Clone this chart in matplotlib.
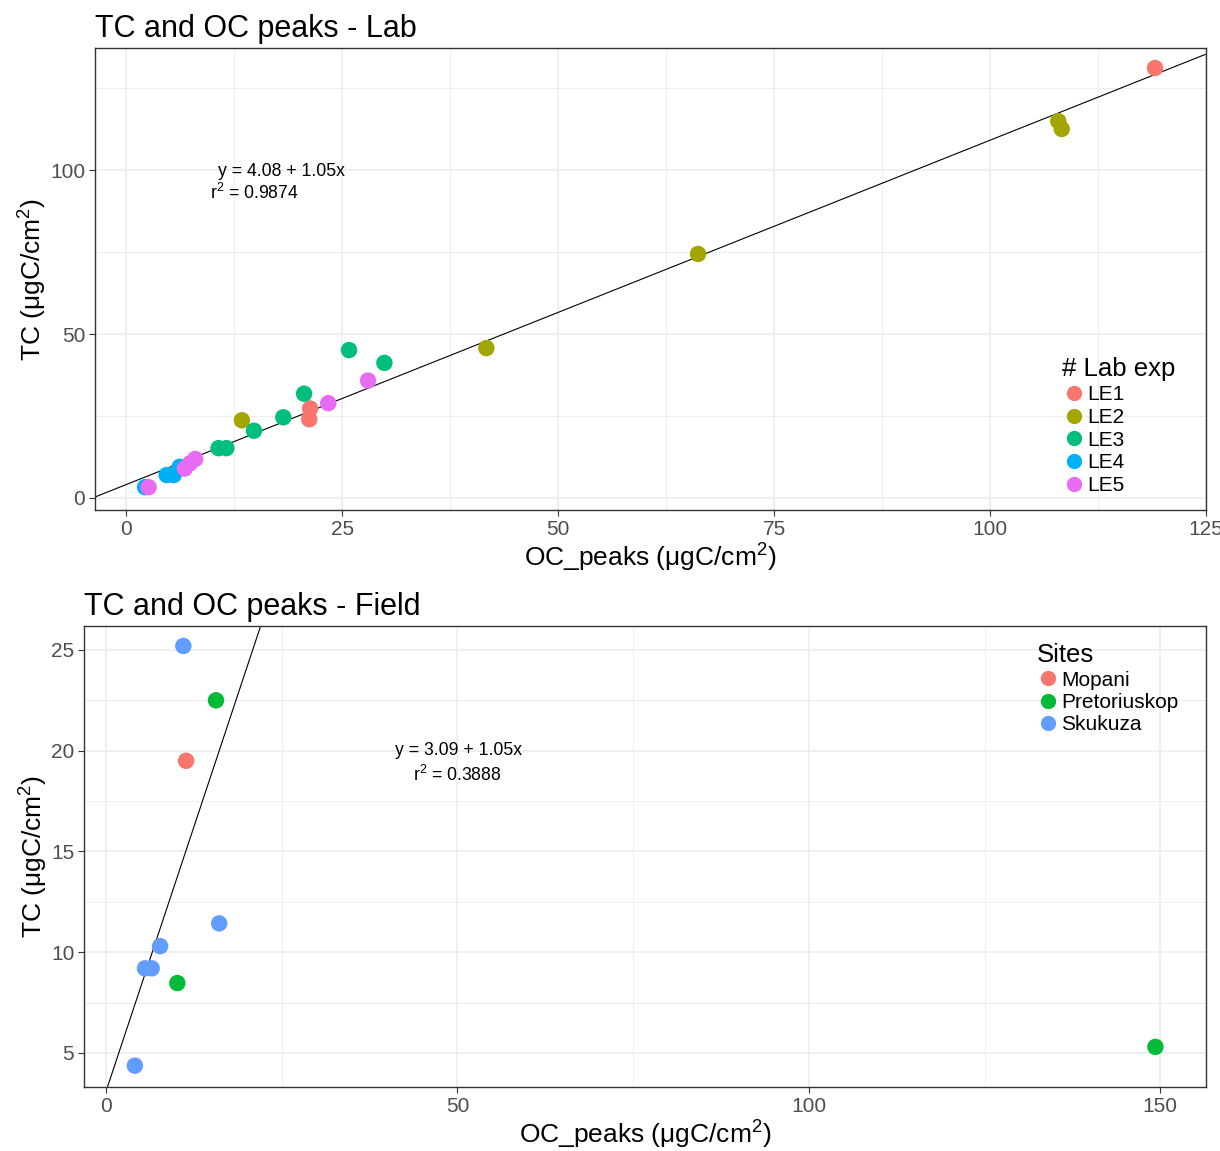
import matplotlib
matplotlib.use("Agg")
import matplotlib.pyplot as plt
from matplotlib.lines import Line2D
import numpy as np

plt.rcParams['font.family'] = ['Liberation Sans', 'DejaVu Sans']
plt.rcParams['mathtext.fontset'] = 'custom'
plt.rcParams['mathtext.rm'] = 'Liberation Sans'
plt.rcParams['mathtext.it'] = 'Liberation Sans:italic'

# lab data (OC_peaks, TC)
lab_groups = ['LE1', 'LE2', 'LE3', 'LE4', 'LE5']
lab_colors = ['#F8766D', '#A3A500', '#00BF7D', '#00B0F6', '#E76BF3']
lab_oc = {
    'LE1': [119.1, 21.3, 21.2],
    'LE2': [107.9, 108.3, 66.2, 41.7, 13.4],
    'LE3': [25.8, 29.9, 20.6, 18.2, 14.8, 10.7, 11.6],
    'LE4': [6.2, 4.7, 5.5, 2.2],
    'LE5': [2.6, 6.8, 8.0, 7.4, 23.4, 28.0],
}
lab_tc = {
    'LE1': [131.1, 27.3, 24.0],
    'LE2': [114.9, 112.5, 74.4, 45.7, 23.7],
    'LE3': [45.1, 41.2, 31.8, 24.6, 20.5, 15.2, 15.2],
    'LE4': [9.5, 7.0, 7.0, 3.3],
    'LE5': [3.3, 9.0, 11.9, 10.6, 28.9, 35.8],
}
lab_fit = (4.08, 1.05)

# field data
sites = ['Mopani', 'Pretoriuskop', 'Skukuza']
site_colors = ['#F8766D', '#00BA38', '#619CFF']
field_oc = {
    'Mopani': [11.4],
    'Pretoriuskop': [15.65, 10.15, 149.3],
    'Skukuza': [11.0, 16.1, 7.7, 5.55, 6.5, 4.1],
}
field_tc = {
    'Mopani': [19.5],
    'Pretoriuskop': [22.5, 8.47, 5.3],
    'Skukuza': [25.2, 11.43, 10.3, 9.2, 9.2, 4.37],
}
field_fit = (3.09, 1.05)

GRID = '#EBEBEB'
BORDER = '#333333'


def style_axes(ax, xmaj, xmin, ymaj, ymin, xlim, ylim):
    ax.set_xlim(*xlim)
    ax.set_ylim(*ylim)
    ax.set_xticks(xmaj)
    ax.set_xticks(xmin, minor=True)
    ax.set_yticks(ymaj)
    ax.set_yticks(ymin, minor=True)
    ax.grid(True, which='major', color=GRID, linewidth=1.1)
    ax.grid(True, which='minor', color=GRID, linewidth=0.6)
    ax.set_axisbelow(True)
    for s in ax.spines.values():
        s.set_color(BORDER)
        s.set_linewidth(1.0)
    ax.tick_params(which='major', length=4, color=BORDER, labelsize=15,
                   labelcolor='#4D4D4D', width=0.8, pad=3)
    ax.tick_params(which='minor', length=0)
    ax.set_xlabel('OC_peaks (μgC/cm$^{2}$)', fontsize=19, labelpad=2)
    ax.set_ylabel('TC (μgC/cm$^{2}$)', fontsize=19, labelpad=1)


fig = plt.figure(figsize=(12.2, 11.51), dpi=100)

# ---- top: lab ----
ax1 = fig.add_axes([95 / 1220, 1 - 510 / 1151, 1111 / 1220, 462 / 1151])
xlim1 = (-3.6, 124.9)
ylim1 = (-3.66, 137.2)
xs = np.array(xlim1)
ax1.plot(xs, lab_fit[0] + lab_fit[1] * xs, color='black', linewidth=0.8, zorder=2)
for g, c in zip(lab_groups, lab_colors):
    ax1.scatter(lab_oc[g], lab_tc[g], s=140, color=c, edgecolors='none', zorder=3)
style_axes(ax1, [0, 25, 50, 75, 100, 125], [12.5, 37.5, 62.5, 87.5, 112.5],
           [0, 50, 100], [25, 75, 125], xlim1, ylim1)
ax1.text(18.0, 99.5, 'y = 4.08 + 1.05x', fontsize=12.7, ha='center', va='center')
ax1.text(14.8, 93.0, 'r$^{2}$ = 0.9874', fontsize=12.7, ha='center', va='center')
ax1.set_title('TC and OC peaks - Lab', loc='left', fontsize=22, pad=8)
h1 = [Line2D([], [], marker='o', linestyle='none', markersize=11,
             markerfacecolor=c, markeredgecolor='none') for c in lab_colors]
leg1 = ax1.legend(h1, lab_groups, title='# Lab exp', loc='upper left',
                  bbox_to_anchor=(1052 / 1220, 1 - 347 / 1151),
                  bbox_transform=fig.transFigure, frameon=False, fontsize=15,
                  title_fontsize=18.5, handletextpad=0.1, labelspacing=0.18,
                  borderpad=0, handlelength=1.1, alignment='left')

# ---- bottom: field ----
ax2 = fig.add_axes([84 / 1220, 1 - 1087 / 1151, 1122 / 1220, 461 / 1151])
xlim2 = (-3.13, 156.5)
ylim2 = (3.31, 26.19)
xs = np.array(xlim2)
ax2.plot(xs, field_fit[0] + field_fit[1] * xs, color='black', linewidth=0.8, zorder=2)
for g, c in zip(sites, site_colors):
    ax2.scatter(field_oc[g], field_tc[g], s=140, color=c, edgecolors='none', zorder=3)
style_axes(ax2, [0, 50, 100, 150], [25, 75, 125],
           [5, 10, 15, 20, 25], [7.5, 12.5, 17.5, 22.5], xlim2, ylim2)
ax2.text(50.2, 20.0, 'y = 3.09 + 1.05x', fontsize=12.7, ha='center', va='center')
ax2.text(50.0, 18.8, 'r$^{2}$ = 0.3888', fontsize=12.7, ha='center', va='center')
ax2.set_title('TC and OC peaks - Field', loc='left', fontsize=22, pad=8)
h2 = [Line2D([], [], marker='o', linestyle='none', markersize=11,
             markerfacecolor=c, markeredgecolor='none') for c in site_colors]
leg2 = ax2.legend(h2, sites, title='Sites', loc='upper left',
                  bbox_to_anchor=(1026 / 1220, 1 - 633 / 1151),
                  bbox_transform=fig.transFigure, frameon=False, fontsize=15,
                  title_fontsize=18.5, handletextpad=0.1, labelspacing=0.16,
                  borderpad=0, handlelength=1.1, alignment='left')

fig.savefig('out.png', dpi=100, facecolor='white')
